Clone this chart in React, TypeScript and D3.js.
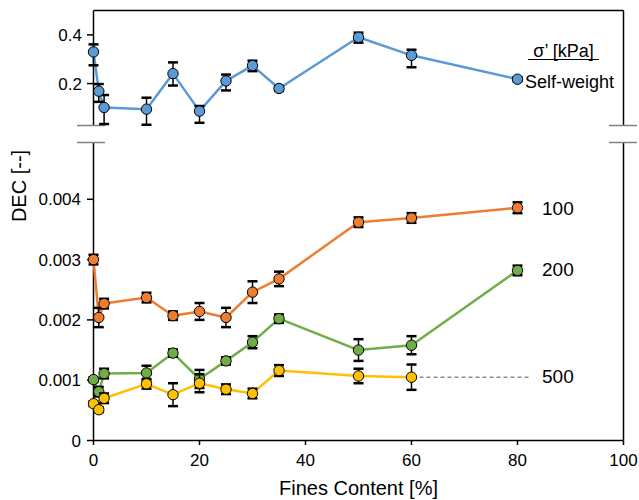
import React from "react";
import * as d3 from "d3";

const fines = [0, 1, 2, 10, 15, 20, 25, 30, 35, 50, 60, 80];

const selfWeight = [0.33, 0.169, 0.102, 0.095, 0.241, 0.087, 0.211, 0.274, 0.18, 0.39, 0.316, 0.218];
const selfWeightHigh = [0.361, 0.198, 0.153, 0.142, 0.287, 0.108, 0.237, 0.294, 0.19, 0.409, 0.339, 0.226];
const selfWeightLow = [0.275, 0.125, 0.034, 0.031, 0.192, 0.039, 0.172, 0.251, 0.17, 0.368, 0.267, 0.21];

const dec100 = [0.003, 0.00204, 0.00227, 0.00237, 0.00207, 0.00214, 0.00204, 0.00246, 0.00268, 0.00362, 0.00369, 0.00386];
const err100 = [0.00008, 0.00016, 0.00008, 0.00008, 0.00007, 0.00014, 0.00016, 0.00018, 0.00012, 0.00008, 0.00008, 0.00009];

const dec200 = [0.00101, 0.00081, 0.00111, 0.00112, 0.00145, 0.00102, 0.00132, 0.00163, 0.00202, 0.0015, 0.00158, 0.00282];
const err200 = [0.00004, 0.00008, 0.00008, 0.00012, 0.00006, 0.00015, 0.00006, 0.0001, 0.00007, 0.00018, 0.00015, 0.00008];

const fines500 = [0, 1, 2, 10, 15, 20, 25, 30, 35, 50, 60];
const dec500 = [0.00061, 0.00051, 0.0007, 0.00094, 0.00076, 0.00095, 0.00085, 0.00078, 0.00116, 0.00107, 0.00105];
const err500 = [0.00004, 0.00004, 0.00008, 0.00008, 0.00019, 0.00015, 0.00008, 0.00008, 0.00009, 0.00012, 0.00021];

const xTicks = [0, 20, 40, 60, 80, 100];
const topTicks = [0.2, 0.4];
const bottomTicks = [0, 0.001, 0.002, 0.003, 0.004];

const FONT = "'Liberation Sans', Arial, sans-serif";

const x = d3.scaleLinear().domain([0, 100]).range([93.5, 623.5]);
const yTop = d3.scaleLinear().domain([0.03, 0.5]).range([125, 10.5]);
const yBot = d3.scaleLinear().domain([0, 0.00495]).range([440.5, 142]);

type Pt = { x: number; y: number; lo: number; hi: number };

function Series({ pts, y, color }: { pts: Pt[]; y: d3.ScaleLinear<number, number>; color: string }) {
  const line = d3
    .line<Pt>()
    .x((d) => x(d.x))
    .y((d) => y(d.y));
  return (
    <g>
      <path d={line(pts) || ""} fill="none" stroke={color} strokeWidth={2.5} strokeLinejoin="round" />
      {pts.map((d, i) => (
        <g key={"e" + i} stroke="#000">
          <line x1={x(d.x)} x2={x(d.x)} y1={y(d.lo)} y2={y(d.hi)} strokeWidth={1.5} />
          <line x1={x(d.x) - 5} x2={x(d.x) + 5} y1={y(d.lo)} y2={y(d.lo)} strokeWidth={2.5} />
          <line x1={x(d.x) - 5} x2={x(d.x) + 5} y1={y(d.hi)} y2={y(d.hi)} strokeWidth={2.5} />
        </g>
      ))}
      {pts.map((d, i) => (
        <circle key={"c" + i} cx={x(d.x)} cy={y(d.y)} r={5.2} fill={color} stroke="#000" strokeWidth={1} />
      ))}
    </g>
  );
}

export default function App() {
  const swPts: Pt[] = fines.map((f, i) => ({ x: f, y: selfWeight[i], lo: selfWeightLow[i], hi: selfWeightHigh[i] }));
  const p100: Pt[] = fines.map((f, i) => ({ x: f, y: dec100[i], lo: dec100[i] - err100[i], hi: dec100[i] + err100[i] }));
  const p200: Pt[] = fines.map((f, i) => ({ x: f, y: dec200[i], lo: dec200[i] - err200[i], hi: dec200[i] + err200[i] }));
  const p500: Pt[] = fines500.map((f, i) => ({ x: f, y: dec500[i], lo: dec500[i] - err500[i], hi: dec500[i] + err500[i] }));

  const last500 = dec500[dec500.length - 1];
  const lastX500 = fines500[fines500.length - 1];

  return (
    <svg
      width={639}
      height={500}
      style={{ position: "absolute", left: 0, top: 0, background: "#fff" }}
      fontFamily={FONT}
    >
      {/* frame */}
      <g stroke="#000" strokeWidth={1.5} fill="none">
        <line x1={x(0)} x2={x(100)} y1={10.5} y2={10.5} />
        <line x1={x(0)} x2={x(0)} y1={10.5} y2={125} />
        <line x1={x(0)} x2={x(0)} y1={142} y2={440.5} />
        <line x1={x(100)} x2={x(100)} y1={10.5} y2={125} />
        <line x1={x(100)} x2={x(100)} y1={142} y2={440.5} />
        <line x1={x(0)} x2={x(100)} y1={440.5} y2={440.5} />
      </g>
      {/* break marks */}
      <g stroke="#808080" strokeWidth={1.5}>
        <line x1={77} x2={105} y1={125.5} y2={125.5} />
        <line x1={77} x2={105} y1={142.5} y2={142.5} />
        <line x1={609} x2={637} y1={125.5} y2={125.5} />
        <line x1={609} x2={637} y1={142.5} y2={142.5} />
      </g>
      {/* x ticks */}
      {xTicks.map((t) => (
        <g key={"xt" + t}>
          <line x1={x(t)} x2={x(t)} y1={440.5} y2={445} stroke="#000" strokeWidth={1.5} />
          <text x={x(t)} y={466} textAnchor="middle" fontSize={17} fill="#000">
            {t}
          </text>
        </g>
      ))}
      {/* top y ticks */}
      {topTicks.map((t) => (
        <g key={"tt" + t}>
          <line x1={87} x2={x(0)} y1={yTop(t)} y2={yTop(t)} stroke="#000" strokeWidth={1.5} />
          <text x={82} y={yTop(t) + 6} textAnchor="end" fontSize={17} fill="#000">
            {t.toFixed(1)}
          </text>
        </g>
      ))}
      {/* bottom y ticks */}
      {bottomTicks.map((t) => (
        <g key={"bt" + t}>
          <line x1={87} x2={x(0)} y1={yBot(t)} y2={yBot(t)} stroke="#000" strokeWidth={1.5} />
          <text x={81} y={yBot(t) + 6} textAnchor="end" fontSize={17} fill="#000">
            {t === 0 ? "0" : t.toFixed(3)}
          </text>
        </g>
      ))}
      {/* axis titles */}
      <text x={358.5} y={495} textAnchor="middle" fontSize={20} fill="#000">
        Fines Content [%]
      </text>
      <text transform="translate(26,186) rotate(-90)" textAnchor="middle" fontSize={20} fill="#000">
        DEC [--]
      </text>

      {/* series */}
      <Series pts={swPts} y={yTop} color="#5B9BD5" />
      <Series pts={p100} y={yBot} color="#ED7D31" />
      <Series pts={p200} y={yBot} color="#70AD47" />
      <Series pts={p500} y={yBot} color="#FFC000" />

      {/* dashed guide for 500 */}
      <line
        x1={x(lastX500) + 8}
        x2={529}
        y1={yBot(last500)}
        y2={yBot(last500)}
        stroke="#555"
        strokeWidth={1}
        strokeDasharray="4,3"
      />

      {/* series labels */}
      <text x={542} y={yBot(dec100[dec100.length - 1]) + 7} fontSize={19} fill="#000">
        100
      </text>
      <text x={542} y={yBot(dec200[dec200.length - 1]) + 6} fontSize={19} fill="#000">
        200
      </text>
      <text x={542} y={yBot(last500) + 6} fontSize={19} fill="#000">
        500
      </text>

      {/* legend title */}
      <text x={563.5} y={57} textAnchor="middle" fontSize={18} fill="#000">
        σ’ [kPa]
      </text>
      <line x1={528} x2={599} y1={59.5} y2={59.5} stroke="#000" strokeWidth={1} />
      <text x={525} y={87.5} fontSize={18} fill="#000">
        Self-weight
      </text>
    </svg>
  );
}
